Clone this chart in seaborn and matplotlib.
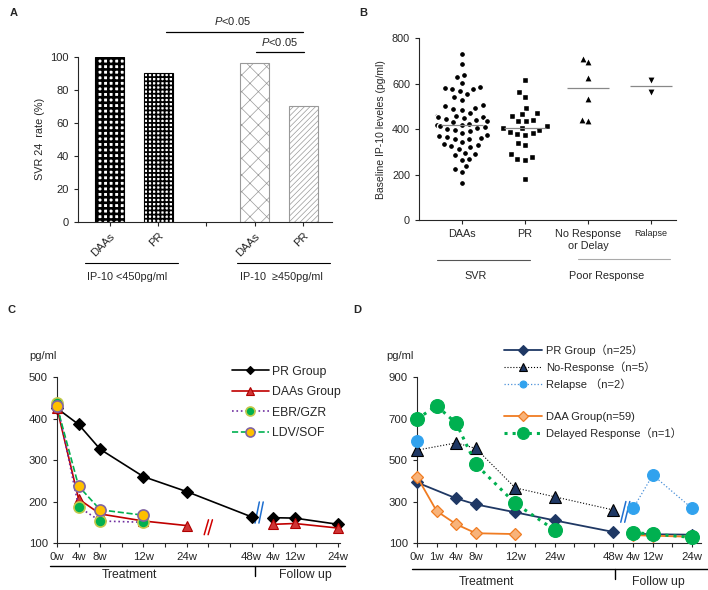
import numpy as np
import seaborn as sns
import matplotlib.pyplot as plt
from matplotlib.lines import Line2D

# ---- panel A: SVR24 rate by IP-10 level ----
a_order = ["DAAs <450", "PR <450", "", "DAAs >=450", "PR >=450"]
a_groups = ["DAAs <450", "PR <450", "DAAs >=450", "PR >=450"]
a_svr = [100, 90, 96, 70]
a_ticklabels = ["DAAs", "PR", "", "DAAs", "PR"]

# ---- panel B: baseline IP-10 ----
b_cats = ["DAAs", "PR", "No Response\nor Delay", "Ralapse"]
b_daas = [730, 685, 640, 630, 605, 585, 580, 578, 575, 570, 555, 540, 530, 505, 500,
          495, 490, 485, 470, 460, 458, 455, 455, 450, 445, 440, 435, 430, 425, 420,
          418, 415, 410, 405, 400, 398, 390, 385, 375, 370, 365, 360, 358, 355, 345,
          335, 330, 325, 320, 315, 295, 290, 285, 268, 265, 238, 225, 210, 165]
b_pr = [615, 564, 542, 495, 470, 465, 460, 442, 438, 435, 412, 406, 405, 398, 388,
        382, 378, 374, 341, 330, 290, 276, 267, 265, 179]
b_nr = [711, 696, 627, 532, 440, 436]
b_relapse = [618, 565]

# ---- panel C: IP-10 over time, PR vs DAAs ----
c_weeks = ["0w", "4w", "8w", "12w", "24w", "48w", "FU4w", "FU12w", "FU24w"]
c_ticklabels = ["0w", "4w", "8w", "12w", "24w", "48w", "4w", "12w", "24w"]
c_pr = [425, 386, 326, 260, 224, 163, 161, 160, 145]
c_daa_weeks = ["0w", "4w", "8w", "12w", "24w", "FU4w", "FU12w", "FU24w"]
c_daa = [425, 206, 170, 153, 142, 145, 147, 136]
c_sub_weeks = ["0w", "4w", "8w", "12w"]
c_ebr = [438, 187, 153, 150]
c_ldv = [430, 237, 180, 167]

# ---- panel D: IP-10 over time by response ----
d_weeks = ["0w", "1w", "4w", "8w", "12w", "24w", "48w", "FU4w", "FU12w", "FU24w"]
d_ticklabels = ["0w", "1w", "4w", "8w", "12w", "24w", "48w", "4w", "12w", "24w"]
d_pr_weeks = ["0w", "4w", "8w", "12w", "24w", "48w", "FU4w", "FU12w", "FU24w"]
d_pr = [392, 315, 286, 248, 209, 153, 145, 142, 140]
d_nr_weeks = ["0w", "4w", "8w", "12w", "24w", "48w"]
d_nr = [548, 583, 556, 366, 323, 259]
d_rel_weeks = ["0w", "FU4w", "FU12w", "FU24w"]
d_rel = [591, 267, 428, 267]
d_daa_weeks = ["0w", "1w", "4w", "8w", "12w", "FU4w", "FU12w", "FU24w"]
d_daa = [420, 254, 190, 147, 143, 138, 135, 130]
d_del_weeks = ["0w", "1w", "4w", "8w", "12w", "24w", "FU4w", "FU12w", "FU24w"]
d_del = [698, 762, 677, 479, 291, 163, 150, 143, 127]

# uneven time axis slots
c_slot = dict(zip(c_weeks, [0, 1, 2, 4, 6, 9, 10, 11, 13]))
d_slot = dict(zip(d_weeks, [0, 1, 2, 3, 5, 7, 10, 11, 12, 14]))

sns.set_style("ticks")
plt.rcParams['font.family'] = ['Liberation Sans', 'Noto Sans CJK SC', 'DejaVu Sans']
plt.rcParams['mathtext.fontset'] = 'custom'
plt.rcParams['mathtext.it'] = 'Liberation Sans:italic'
plt.rcParams['mathtext.rm'] = 'Liberation Sans'
plt.rcParams['axes.linewidth'] = 0.8
plt.rcParams['xtick.major.width'] = 0.8
plt.rcParams['ytick.major.width'] = 0.8
plt.rcParams['xtick.major.size'] = 3
plt.rcParams['ytick.major.size'] = 3

fig = plt.figure(figsize=(7.08, 5.90), dpi=100)


def draw_series(ax, weeks, vals, slot, style):
    xs = [slot[w] for w in weeks]
    phase = ["fu" if w.startswith("FU") else "tx" for w in weeks]
    sns.lineplot(x=xs, y=vals, units=phase, estimator=None, sort=False,
                 legend=False, ax=ax, clip_on=False, zorder=3, **style)


# ================= A =================
axA = fig.add_axes([0.110, 0.624, 0.359, 0.280])
sns.barplot(x=a_groups, y=a_svr, order=a_order, width=0.6, color="white",
            errorbar=None, ax=axA)
hatch_specs = [("+++", "black", 1.9), ("++++", "black", 1.3),
               ("xx", "#999999", 0.5), ("//////", "#999999", 0.5)]
for p, (h, ec, hlw) in zip(axA.patches, hatch_specs):
    p.set_facecolor("white")
    p.set_hatch(h)
    p.set_edgecolor(ec)
    p.set_linewidth(0.8)
    if hasattr(p, "set_hatch_linewidth"):
        p.set_hatch_linewidth(hlw)
axA.set_xlim(-0.66, 4.6)
axA.set_ylim(0, 100)
axA.set_yticks(range(0, 101, 20))
axA.set_xticks(range(5))
axA.set_xticklabels(a_ticklabels, rotation=45, ha="right", rotation_mode="anchor", fontsize=8)
axA.tick_params(axis="y", labelsize=8)
axA.set_ylabel("SVR 24  rate (%)", fontsize=7.8)
sns.despine(ax=axA)

axA.plot([1.16, 4.0], [115, 115], color="black", lw=0.9, clip_on=False)
axA.text(2.55, 118, "$P$<0.05", ha="center", va="bottom", fontsize=8)
axA.plot([3.03, 4.02], [103, 103], color="black", lw=0.9, clip_on=False)
axA.text(3.52, 105.5, "$P$<0.05", ha="center", va="bottom", fontsize=8)

trA = axA.get_xaxis_transform()
axA.plot([-0.52, 1.41], [-0.248, -0.248], color="black", lw=0.8, transform=trA, clip_on=False)
axA.plot([2.63, 4.56], [-0.248, -0.248], color="black", lw=0.8, transform=trA, clip_on=False)
axA.text(-0.48, -0.335, "IP-10 <450pg/ml", transform=trA, fontsize=7.8, va="center")
axA.text(2.69, -0.335, "IP-10  \u2265450pg/ml", transform=trA, fontsize=7.8, va="center")

# ================= B =================
axB = fig.add_axes([0.592, 0.627, 0.363, 0.308])
# white marker edges leave small gaps between neighbouring dots
b_sets = [(b_daas, "o", 4.4, 1.0), (b_pr, "s", 4.4, 1.0), (b_nr, "^", 4.2, 0),
          (b_relapse, "v", 4.2, 0)]
for i, (vals, mk, sz, ew) in enumerate(b_sets):
    sns.swarmplot(x=[b_cats[i]] * len(vals), y=vals, order=b_cats, marker=mk,
                  color="black", size=sz, ax=axB, linewidth=ew, edgecolor="white")
    axB.hlines(np.median(vals), i - 0.34, i + 0.34, color="#888888", lw=0.9, zorder=4)
axB.set_xlim(-0.68, 3.4)
axB.set_ylim(0, 800)
axB.set_yticks(range(0, 801, 200))
axB.set_xticks(range(4))
axB.set_xticklabels(b_cats, fontsize=7.8)
axB.get_xticklabels()[3].set_fontsize(6.5)
axB.tick_params(axis="y", labelsize=7.8)
axB.set_ylabel("Baseline IP-10 leveles (pg/ml)", fontsize=7.5)
sns.despine(ax=axB)
trB = axB.get_xaxis_transform()
axB.plot([-0.4, 1.08], [-0.22, -0.22], color="#555555", lw=0.8, transform=trB, clip_on=False)
axB.plot([1.84, 3.3], [-0.215, -0.215], color="#aaaaaa", lw=0.8, transform=trB, clip_on=False)
axB.text(0.22, -0.31, "SVR", transform=trB, fontsize=7.8, ha="center", va="center")
axB.text(2.3, -0.31, "Poor Response", transform=trB, fontsize=7.8, ha="center", va="center")

# ================= C =================
axC = fig.add_axes([0.0805, 0.0797, 0.400, 0.281])
c_styles = {
    "PR Group": dict(color="black", linestyle="-", linewidth=1.2, marker="D", markersize=6,
                     markerfacecolor="black", markeredgecolor="black", markeredgewidth=0.8),
    "DAAs Group": dict(color="#C00000", linestyle="-", linewidth=1.2, marker="^", markersize=7.5,
                       markerfacecolor="#D03535", markeredgecolor="#B00000", markeredgewidth=0.8),
    "EBR/GZR": dict(color="#7030A0", linestyle=":", linewidth=1.2, marker="o", markersize=8,
                    markerfacecolor="#00B050", markeredgecolor="#C4C94A", markeredgewidth=1.2),
    "LDV/SOF": dict(color="#00B050", linestyle="--", linewidth=1.2, marker="o", markersize=8,
                    markerfacecolor="#FFC000", markeredgecolor="#8064A2", markeredgewidth=1.2),
}
draw_series(axC, c_weeks, c_pr, c_slot, c_styles["PR Group"])
draw_series(axC, c_daa_weeks, c_daa, c_slot, c_styles["DAAs Group"])
draw_series(axC, c_sub_weeks, c_ebr, c_slot, c_styles["EBR/GZR"])
draw_series(axC, c_sub_weeks, c_ldv, c_slot, c_styles["LDV/SOF"])
axC.set_xlim(0, 13.1)
axC.set_ylim(100, 500)
axC.set_yticks(range(100, 501, 100))
axC.set_xticks(range(14))
labC = [""] * 14
for w, lab in zip(c_weeks, c_ticklabels):
    labC[c_slot[w]] = lab
axC.set_xticklabels(labC, fontsize=8.2)
axC.tick_params(axis="y", labelsize=8.2)
axC.set_xlabel("")
axC.set_ylabel("")
sns.despine(ax=axC)
for d in (-0.09, 0.09):
    axC.plot([7 + d - 0.1, 7 + d + 0.1], [120, 156], color="#D00000", lw=1.1, clip_on=False)
    axC.plot([9.35 + d - 0.1, 9.35 + d + 0.1], [148, 199], color="#1F6FD0", lw=1.1, clip_on=False)
axC.text(-0.05, 1.13, "pg/ml", transform=axC.transAxes, fontsize=8, ha="center", va="center")
trC = axC.get_xaxis_transform()
axC.plot([-0.32, 13.3], [-0.139, -0.139], color="black", lw=1, transform=trC, clip_on=False)
axC.plot([9.14, 9.14], [-0.139, -0.2], color="black", lw=1, transform=trC, clip_on=False)
axC.text(3.35, -0.195, "Treatment", transform=trC, fontsize=8.8, ha="center", va="center")
axC.text(11.5, -0.195, "Follow up", transform=trC, fontsize=8.8, ha="center", va="center")
hC = []
for s in c_styles.values():
    s = dict(s)
    s["markersize"] = s["markersize"] - 1.5
    hC.append(Line2D([], [], **s))
axC.legend(hC, list(c_styles.keys()), loc="upper left", bbox_to_anchor=(0.618, 1.07),
           frameon=False, fontsize=8.8, handlelength=3.0, handletextpad=0.3,
           labelspacing=0.7, borderpad=0, borderaxespad=0)

# ================= D =================
axD = fig.add_axes([0.589, 0.0797, 0.401, 0.281])
d_styles = {
    "PR Group\uff08n=25\uff09": dict(color="#1F3864", linestyle="-", linewidth=1.3, marker="D",
                                     markersize=6, markerfacecolor="#1F3864",
                                     markeredgecolor="#1F3864", markeredgewidth=0.8),
    "No-Response\uff08n=5\uff09": dict(color="black", linestyle=":", linewidth=0.8, marker="^",
                                       markersize=8.5, markerfacecolor="#1F3864",
                                       markeredgecolor="black", markeredgewidth=0.8),
    "Relapse \uff08n=2\uff09": dict(color="#4A90D9", linestyle=":", linewidth=0.9, marker="o",
                                   markersize=8.5, markerfacecolor="#31A2EE",
                                   markeredgecolor="#31A2EE", markeredgewidth=0.8),
    "DAA Group(n=59)": dict(color="#F07C22", linestyle="-", linewidth=1.3, marker="D",
                            markersize=6.5, markerfacecolor="#F8B37A",
                            markeredgecolor="#F07C22", markeredgewidth=0.9),
    "Delayed Response\uff08n=1\uff09": dict(color="#00B050", linestyle=":", linewidth=2.2,
                                            marker="o", markersize=10, markerfacecolor="#00B050",
                                            markeredgecolor="#00B050", markeredgewidth=0.8),
}
d_keys = list(d_styles.keys())
draw_series(axD, d_pr_weeks, d_pr, d_slot, d_styles[d_keys[0]])
draw_series(axD, d_nr_weeks, d_nr, d_slot, d_styles[d_keys[1]])
draw_series(axD, d_rel_weeks, d_rel, d_slot, d_styles[d_keys[2]])
draw_series(axD, d_daa_weeks, d_daa, d_slot, d_styles[d_keys[3]])
draw_series(axD, d_del_weeks, d_del, d_slot, d_styles[d_keys[4]])
axD.set_xlim(0, 14.45)
axD.set_ylim(100, 900)
axD.set_yticks(range(100, 901, 200))
axD.set_xticks(range(15))
labD = [""] * 15
for w, lab in zip(d_weeks, d_ticklabels):
    labD[d_slot[w]] = lab
axD.set_xticklabels(labD, fontsize=8.2)
axD.tick_params(axis="y", labelsize=8.2)
axD.set_xlabel("")
axD.set_ylabel("")
sns.despine(ax=axD)
for d in (-0.1, 0.1):
    axD.plot([10.6 + d - 0.13, 10.6 + d + 0.13], [200, 300], color="#1F6FD0", lw=1.1, clip_on=False)
axD.text(-0.06, 1.13, "pg/ml", transform=axD.transAxes, fontsize=8, ha="center", va="center")
trD = axD.get_xaxis_transform()
axD.plot([-0.25, 14.8], [-0.157, -0.157], color="black", lw=1, transform=trD, clip_on=False)
axD.plot([10.08, 10.08], [-0.157, -0.215], color="black", lw=1, transform=trD, clip_on=False)
axD.text(3.55, -0.235, "Treatment", transform=trD, fontsize=8.8, ha="center", va="center")
axD.text(12.3, -0.235, "Follow up", transform=trD, fontsize=8.8, ha="center", va="center")
leg_sizes = [5, 6, 5, 5, 8.5]
hD = []
for k, ms in zip(d_keys, leg_sizes):
    s = dict(d_styles[k])
    s["markersize"] = ms
    hD.append(Line2D([], [], **s))
blank = Line2D([], [], linestyle="none")
axD.legend(hD[:3] + [blank] + hD[3:], d_keys[:3] + [" "] + d_keys[3:], loc="upper left",
           bbox_to_anchor=(0.306, 1.20), frameon=False, fontsize=8, handlelength=3.4,
           handletextpad=0.4, labelspacing=0.52, borderpad=0, borderaxespad=0)

# panel letters
for lab, x, y in [("A", 14, 13), ("B", 363, 13), ("C", 12, 310), ("D", 357, 310)]:
    fig.text(x / 708, 1 - y / 590, lab, fontsize=8, fontweight="bold", ha="center", va="center")

fig.savefig("out.png", dpi=100)
